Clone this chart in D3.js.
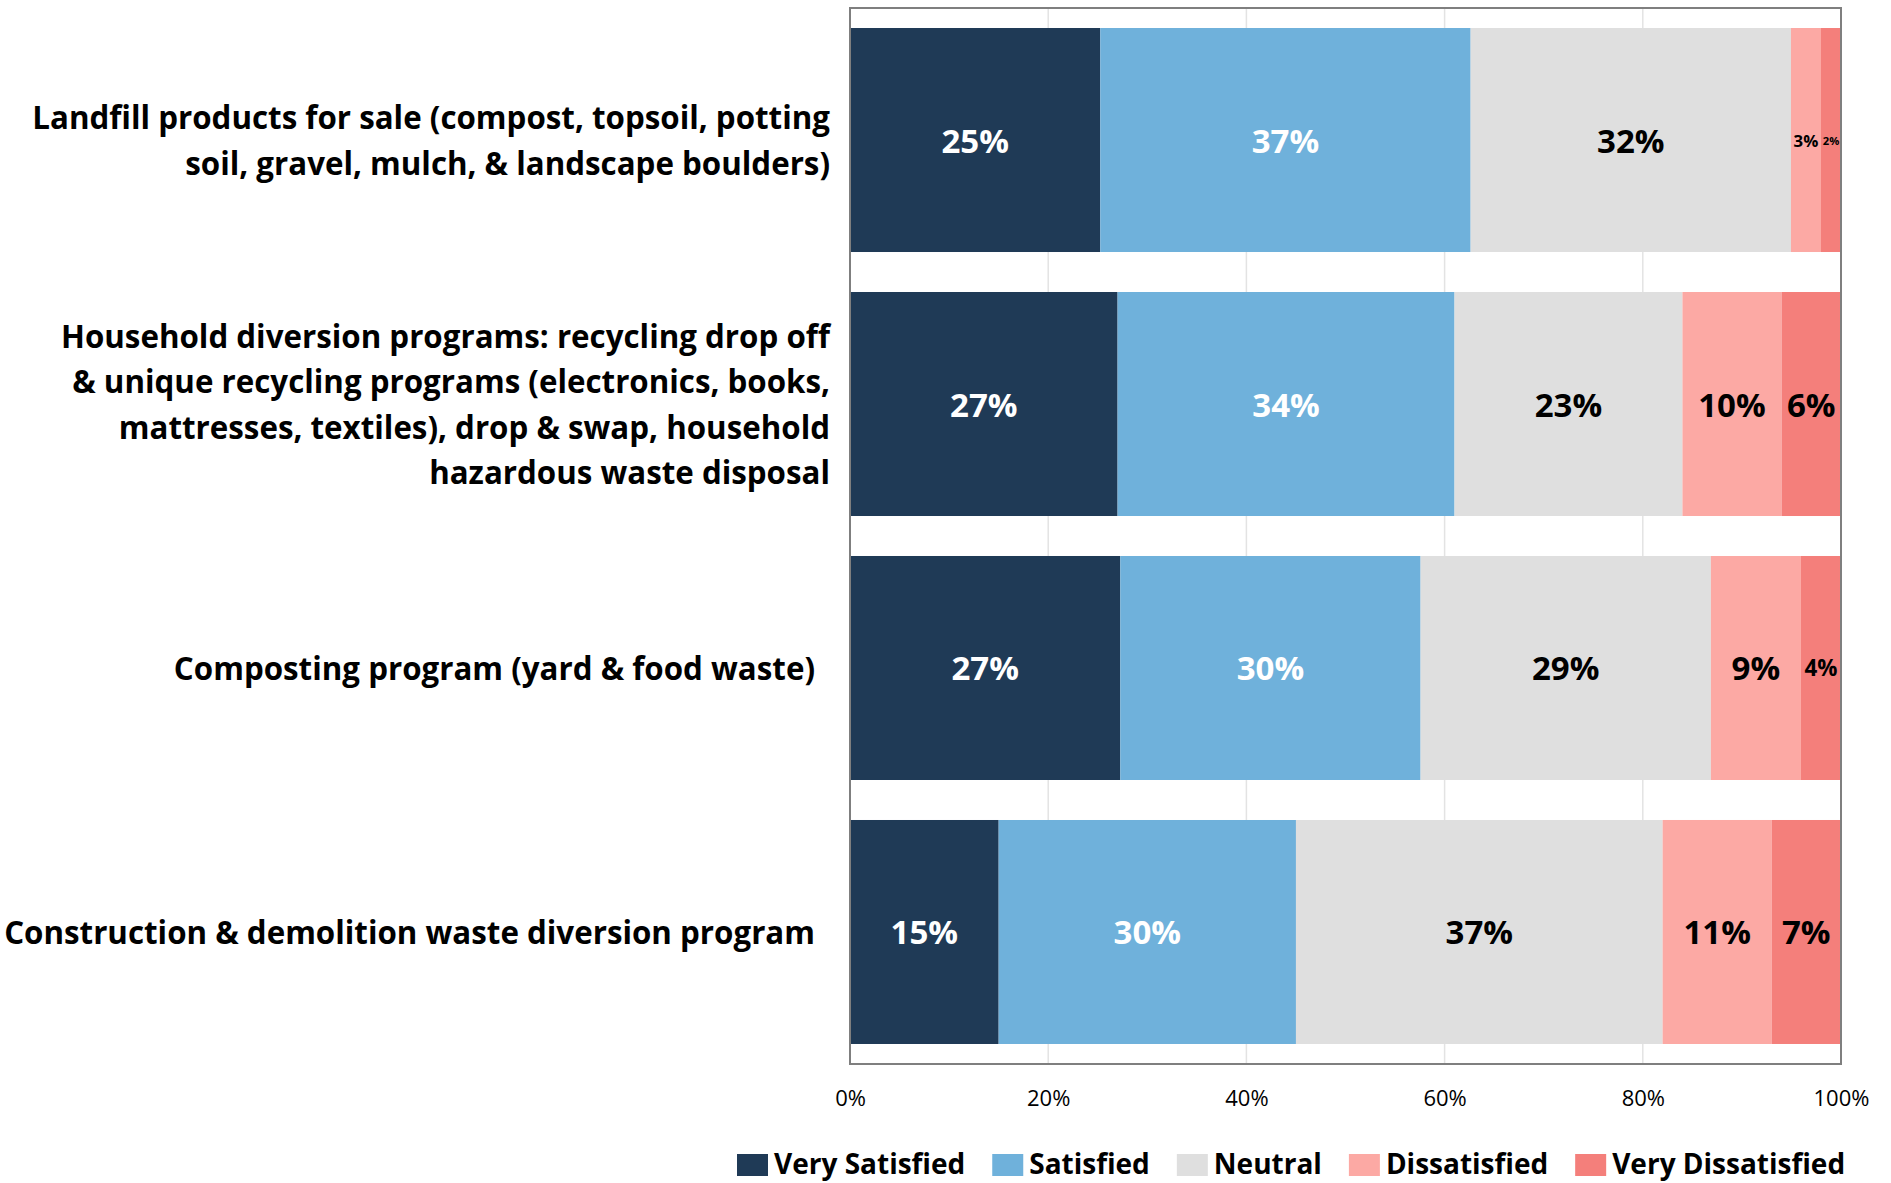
<!DOCTYPE html>
<html>
<head>
<meta charset="utf-8">
<script src="https://cdn.jsdelivr.net/npm/d3@7"></script>
<style>
  body { margin: 0; background: #fff; }
  svg { display: block; }
  text { font-family: "Open Sans", Carlito, Calibri, sans-serif; }
</style>
</head>
<body>
<svg id="chart" width="1891" height="1183"></svg>
<script>
// Survey programs (one bar each), with the wrapped lines used for their labels
const categories = [
  "Landfill products for sale",
  "Household diversion programs",
  "Composting program",
  "Construction & demolition"
];
const categoryLines = [
  ["Landfill products for sale (compost, topsoil, potting",
   "soil, gravel, mulch, & landscape boulders)"],
  ["Household diversion programs: recycling drop off",
   "& unique recycling programs (electronics, books,",
   "mattresses, textiles), drop & swap, household",
   "hazardous waste disposal"],
  ["Composting program (yard & food waste)"],
  ["Construction & demolition waste diversion program"]
];

// Satisfaction ratings, percent of respondents
const seriesNames = ["Very Satisfied", "Satisfied", "Neutral", "Dissatisfied", "Very Dissatisfied"];
const verySatisfied    = [25, 27, 27, 15];
const satisfied        = [37, 34, 30, 30];
const neutral          = [32, 23, 29, 37];
const dissatisfied     = [3, 10, 9, 11];
const veryDissatisfied = [2, 6, 4, 7];

const tickValues = [0, 0.2, 0.4, 0.6, 0.8, 1];
const tickLabels = ["0%", "20%", "40%", "60%", "80%", "100%"];

const seriesColors = ["#1f3a56", "#6fb1db", "#dfdfdf", "#fca9a4", "#f47f7b"];
const labelColors  = ["#ffffff", "#ffffff", "#000000", "#000000", "#000000"];

const seriesValues = [verySatisfied, satisfied, neutral, dissatisfied, veryDissatisfied];
const rows = categories.map((c, i) => {
  const r = { category: c, index: i };
  seriesNames.forEach((s, k) => { r[s] = seriesValues[k][i]; });
  return r;
});

const svg = d3.select("#chart");
const plot = { left: 850, right: 1841, top: 8, bottom: 1064 };

const x = d3.scaleLinear().domain([0, 1]).range([plot.left, plot.right]);
const y = d3.scaleBand()
  .domain(categories)
  .range([plot.top, plot.bottom])
  .paddingInner(0.1515)
  .paddingOuter(0.0758);
const color = d3.scaleOrdinal().domain(seriesNames).range(seriesColors);
const textColor = d3.scaleOrdinal().domain(seriesNames).range(labelColors);

const stacked = d3.stack()
  .keys(seriesNames)
  .offset(d3.stackOffsetExpand)(rows);

// vertical gridlines
svg.append("g")
  .selectAll("line")
  .data(tickValues.slice(1, -1))
  .join("line")
  .attr("x1", d => x(d)).attr("x2", d => x(d))
  .attr("y1", plot.top).attr("y2", plot.bottom)
  .attr("stroke", "#e3e3e3")
  .attr("stroke-width", 1.5);

// stacked segments
const layers = svg.append("g")
  .selectAll("g")
  .data(stacked)
  .join("g")
  .attr("fill", d => color(d.key));

layers.selectAll("rect")
  .data(d => d)
  .join("rect")
  .attr("x", d => x(d[0]))
  .attr("width", d => x(d[1]) - x(d[0]))
  .attr("y", d => y(d.data.category))
  .attr("height", y.bandwidth());

// value labels, shrunk to fit narrow segments
const labelLayer = svg.append("g");
stacked.forEach(layer => {
  labelLayer.selectAll(null)
    .data(layer)
    .join("text")
    .attr("x", d => (x(d[0]) + x(d[1])) / 2)
    .attr("y", d => y(d.data.category) + y.bandwidth() / 2)
    .attr("text-anchor", "middle")
    .attr("dominant-baseline", "central")
    .attr("font-weight", "bold")
    .attr("font-size", d => Math.min(33, (x(d[1]) - x(d[0])) * 0.56))
    .attr("fill", textColor(layer.key))
    .text(d => d.data[layer.key] + "%");
});

// plot frame
svg.append("rect")
  .attr("x", plot.left).attr("y", plot.top)
  .attr("width", plot.right - plot.left)
  .attr("height", plot.bottom - plot.top)
  .attr("fill", "none")
  .attr("stroke", "#7f7f7f")
  .attr("stroke-width", 2);

// x axis tick labels
const xAxis = d3.axisBottom(x)
  .tickValues(tickValues)
  .tickFormat((d, i) => tickLabels[i])
  .tickSize(0)
  .tickPadding(0);
const axisG = svg.append("g")
  .attr("transform", `translate(0,${plot.bottom})`)
  .call(xAxis);
axisG.select(".domain").remove();
axisG.selectAll("text")
  .attr("y", 34)
  .attr("dy", "0.35em")
  .attr("font-size", 22)
  .attr("font-family", null)
  .attr("fill", "#000");

// category labels, right aligned beside the plot;
// single-line labels sit a little further from the axis
const lineHeight = 45.5;
svg.append("g")
  .selectAll("text")
  .data(rows)
  .join("text")
  .attr("text-anchor", "end")
  .attr("font-weight", "bold")
  .attr("font-size", 31.3)
  .attr("fill", "#000")
  .each(function (d) {
    const lines = categoryLines[d.index];
    const cy = y(d.category) + y.bandwidth() / 2;
    const right = plot.left - (lines.length > 1 ? 20 : 35);
    const t = d3.select(this);
    lines.forEach((ln, j) => {
      t.append("tspan")
        .attr("x", right)
        .attr("y", cy + (j - (lines.length - 1) / 2) * lineHeight)
        .attr("dominant-baseline", "central")
        .text(ln);
    });
  });

// legend
const legend = svg.append("g").attr("transform", "translate(737,1163)");
let lx = 0;
seriesNames.forEach(name => {
  const item = legend.append("g").attr("transform", `translate(${lx},0)`);
  item.append("rect")
    .attr("x", 0).attr("y", -9)
    .attr("width", 31).attr("height", 22)
    .attr("fill", color(name));
  const t = item.append("text")
    .attr("x", 37).attr("y", 0)
    .attr("dominant-baseline", "central")
    .attr("font-weight", "bold")
    .attr("font-size", 28)
    .attr("fill", "#000")
    .text(name);
  lx += 37 + t.node().getComputedTextLength() + 27;
});
</script>
</body>
</html>
